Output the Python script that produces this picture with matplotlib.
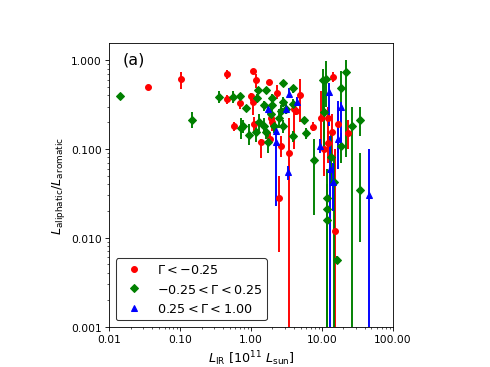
import matplotlib
matplotlib.use("Agg")
from matplotlib import pyplot as plt
from matplotlib.ticker import FormatStrFormatter, NullFormatter

# Gamma < -0.25
red_x = [0.035, 0.104, 0.46, 1.08, 1.16, 1.77, 2.29, 0.45, 0.69, 0.57, 0.98, 1.08, 1.11, 1.36, 1.83,
         2.0, 2.61, 3.39, 4.0, 4.85, 4.25, 7.4, 2.45, 14.2, 9.6, 12.1, 16.7, 23.1, 13.7, 10.6, 12.1,
         15.2, 1.89]
red_y = [0.50, 0.61, 0.69, 0.75, 0.59, 0.56, 0.43, 0.36, 0.33, 0.18, 0.39, 0.34, 0.19, 0.12, 0.13,
         0.20, 0.108, 0.09, 0.28, 0.40, 0.27, 0.178, 0.028, 0.64, 0.225, 0.22, 0.19, 0.15, 0.155, 0.10, 0.117,
         0.012, 0.22]
red_lo = [0.47, 0.47, 0.62, 0.70, 0.48, 0.52, 0.36, 0.32, 0.28, 0.16, 0.35, 0.24, 0.15, 0.079, 0.11,
          0.16, 0.08, 0.0009, 0.10, 0.20, 0.24, 0.16, 0.0069, 0.56, 0.11, 0.12, 0.09, 0.10, 0.08, 0.05, 0.07,
          0.0009, 0.18]
red_hi = [0.53, 0.73, 0.77, 0.80, 0.70, 0.60, 0.52, 0.40, 0.39, 0.20, 0.43, 0.40, 0.23, 0.13, 0.15,
          0.26, 0.14, 0.22, 0.33, 0.62, 0.30, 0.20, 0.049, 0.73, 0.45, 0.30, 0.30, 0.21, 0.25, 0.20, 0.16,
          0.10, 0.26]

# -0.25 < Gamma < 0.25
grn_x = [0.0143, 0.144, 0.347, 0.56, 0.69, 0.84, 0.73, 0.92, 1.27, 1.61, 2.79, 3.85, 1.23, 1.50, 1.95,
         2.79, 2.61, 3.07, 3.85, 5.52, 0.76, 1.16, 1.50, 1.61, 2.08, 2.79, 3.85, 5.89, 7.6, 10.3,
         11.3, 21.7, 18.4, 10.6, 34.2, 26.3, 18.4, 13.3, 14.7, 11.7, 11.7, 11.7, 16.2, 34.2, 2.0,
         1.30, 1.89, 2.45, 1.71]
grn_y = [0.39, 0.21, 0.38, 0.38, 0.39, 0.29, 0.17, 0.145, 0.46, 0.46, 0.55, 0.48, 0.37, 0.31, 0.31,
         0.34, 0.27, 0.28, 0.32, 0.21, 0.18, 0.155, 0.18, 0.155, 0.18, 0.18, 0.14, 0.15, 0.075, 0.59,
         0.61, 0.73, 0.48, 0.26, 0.21, 0.18, 0.108, 0.081, 0.042, 0.028, 0.021, 0.016, 0.0056, 0.034, 0.37,
         0.20, 0.25, 0.22, 0.12]
grn_lo = [0.36, 0.17, 0.33, 0.33, 0.35, 0.27, 0.13, 0.11, 0.42, 0.42, 0.51, 0.43, 0.33, 0.27, 0.27,
          0.30, 0.23, 0.25, 0.28, 0.19, 0.15, 0.12, 0.15, 0.13, 0.15, 0.15, 0.12, 0.13, 0.018, 0.26,
          0.30, 0.08, 0.20, 0.10, 0.14, 0.0009, 0.07, 0.04, 0.0009, 0.0009, 0.01, 0.0009, 0.005, 0.009, 0.33,
          0.16, 0.21, 0.17, 0.09]
grn_hi = [0.43, 0.26, 0.45, 0.45, 0.43, 0.31, 0.22, 0.19, 0.50, 0.50, 0.60, 0.53, 0.41, 0.35, 0.35,
          0.38, 0.31, 0.32, 0.36, 0.23, 0.21, 0.19, 0.22, 0.18, 0.22, 0.21, 0.16, 0.17, 0.13, 0.80,
          0.97, 1.0, 0.75, 0.55, 0.30, 0.30, 0.15, 0.16, 0.08, 0.06, 0.04, 0.03, 0.0063, 0.09, 0.41,
          0.25, 0.30, 0.28, 0.16]

# 0.25 < Gamma < 1.00
blu_x = [3.39, 4.38, 1.71, 3.07, 2.22, 2.22, 3.28, 12.5, 9.3, 16.7, 14.2, 45.8, 12.9, 18.4]
blu_y = [0.42, 0.34, 0.28, 0.28, 0.16, 0.12, 0.055, 0.44, 0.108, 0.13, 0.042, 0.030, 0.06, 0.30]
blu_lo = [0.38, 0.31, 0.25, 0.25, 0.14, 0.023, 0.045, 0.18, 0.09, 0.06, 0.02, 0.0009, 0.0009, 0.10]
blu_hi = [0.48, 0.38, 0.31, 0.31, 0.18, 0.14, 0.065, 0.55, 0.13, 0.35, 0.07, 0.10, 0.14, 0.34]

labels = [r'$\Gamma<-0.25$', r'$-0.25<\Gamma<0.25$', r'$0.25<\Gamma<1.00$']

fig = plt.figure(figsize=(6.4, 4.8065), dpi=76.5625)
ax = fig.add_subplot(111)
ax.set_box_aspect(1)

handles = []
for xs, ys, lo, hi, col, mk, ms, lab in [(red_x, red_y, red_lo, red_hi, 'red', 'o', 5.5, labels[0]),
                                         (grn_x, grn_y, grn_lo, grn_hi, 'green', 'D', 5, labels[1]),
                                         (blu_x, blu_y, blu_lo, blu_hi, 'blue', '^', 5.5, labels[2])]:
    err = [[y - l for y, l in zip(ys, lo)], [h - y for y, h in zip(ys, hi)]]
    eb = ax.errorbar(xs, ys, yerr=err, fmt=mk, color=col, ms=ms, elinewidth=1.8, capsize=0, label=lab)
    handles.append(eb.lines[0])

ax.set_xscale('log')
ax.set_yscale('log')
ax.set_xlim(0.01, 100)
ax.set_ylim(0.001, 1.55)
ax.xaxis.set_major_formatter(FormatStrFormatter('%.2f'))
ax.yaxis.set_major_formatter(FormatStrFormatter('%.3f'))
ax.xaxis.set_minor_formatter(NullFormatter())
ax.yaxis.set_minor_formatter(NullFormatter())
ax.tick_params(labelsize=10)

ax.set_xlabel(r'$L_{\rm IR}$ [10$^{11}$ $L_{\rm sun}$]', fontsize=12)
ax.set_ylabel(r'$L_{\rm aliphatic}/L_{\rm aromatic}$', fontsize=12)
ax.text(0.046, 0.943, '(a)', transform=ax.transAxes, fontsize=15, va='center')

ax.legend(handles, labels, loc='lower left', numpoints=1, fontsize=12, edgecolor='black')

fig.savefig('out.png', dpi=76.5625)
